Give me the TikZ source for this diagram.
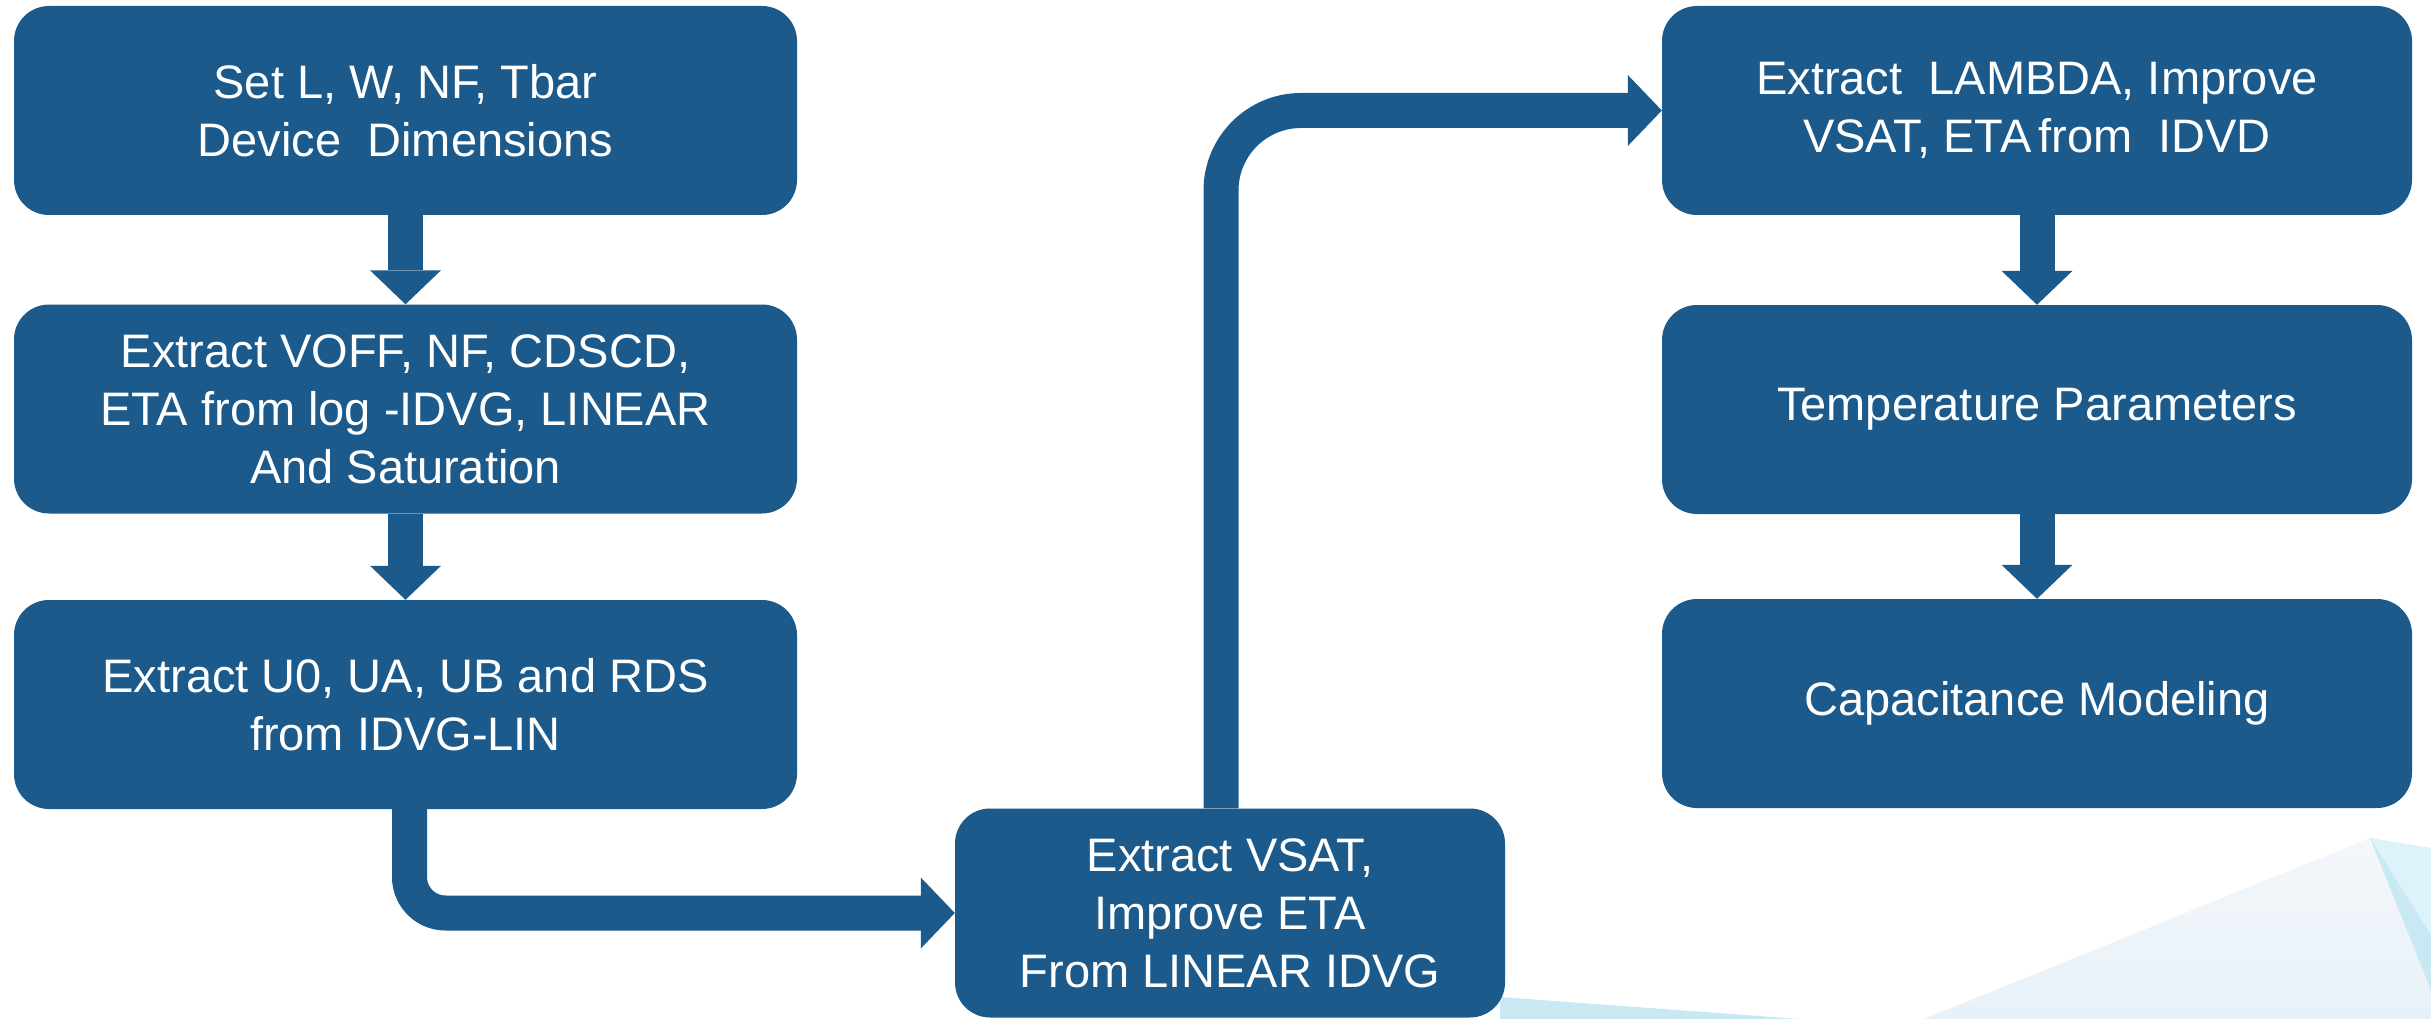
\documentclass[tikz,border=0pt]{standalone}
\usepackage{fontspec}
\setmainfont{Liberation Sans}
\usetikzlibrary{arrows.meta}
\definecolor{boxblue}{RGB}{27,90,139}
\definecolor{paletop}{RGB}{244,247,250}
\definecolor{palebot}{RGB}{231,241,248}
\definecolor{cyanlight}{RGB}{222,243,249}
\definecolor{cyandark}{RGB}{200,232,243}

\begin{document}
\begin{tikzpicture}[x=1pt, y=-1pt]
		\tikzstyle{box}=[fill=boxblue, text=white, rounded corners=35pt, inner sep=0pt, align=center,
			minimum height=209pt, font=\fontsize{47pt}{58pt}\selectfont]
		\tikzstyle{flow}=[line width=35pt, draw=boxblue, -{Triangle[width=71pt, length=34pt, line width=0pt, fill=boxblue]}]
		\useasboundingbox (0, 0) rectangle (2431, 1019);
		% background corner
		\shade[top color=paletop, bottom color=palebot] (1924, 1019) -- (2370, 838) -- (2431, 848) -- (2431, 1019) -- cycle;
		\fill[cyanlight] (2370, 838) -- (2431, 848) -- (2431, 935) -- cycle;
		\fill[cyandark] (2370, 838) -- (2431, 935) -- (2431, 990) -- cycle;
		\fill[cyandark] (1500, 997) -- (1800, 1019) -- (1500, 1019) -- cycle;
		% steps
		\node[box, minimum width=783pt] (dims) at (405.5, 110.5) {Set L, W, NF, Tbar\\Device\ \ Dimensions};
		\node[box, minimum width=783pt] (voff) at (405.5, 409) {Extract VOFF, NF, CDSCD,\\ETA from log -IDVG, LINEAR\\And Saturation};
		\node[box, minimum width=783pt] (mobility) at (405.5, 704.5) {Extract U0, UA, UB and RDS\\from IDVG-LIN};
		\node[box, minimum width=550pt] (vsat) at (1230, 913) {Extract VSAT,\\Improve ETA\\From LINEAR IDVG};
		\node[box, minimum width=750pt] (lambda) at (2037, 110.5) {Extract\ \ LAMBDA, Improve\\VSAT, ETA\kern-6pt\ from\ \ IDVD};
		\node[box, minimum width=750pt] (temp) at (2037, 409.5) {Temperature Parameters};
		\node[box, minimum width=750pt] (cap) at (2037, 703.5) {Capacitance Modeling};
		% flow
		\draw[flow] (dims) -- (voff);
		\draw[flow] (voff) -- (mobility);
		\draw[flow, rounded corners=36pt] ([xshift=4pt]mobility.south) |- (vsat.west);
		\draw[flow, rounded corners=80pt] ([xshift=-9pt]vsat.north) |- (lambda.west);
		\draw[flow] (lambda) -- (temp);
		\draw[flow] (temp) -- (cap);
\end{tikzpicture}
\end{document}
